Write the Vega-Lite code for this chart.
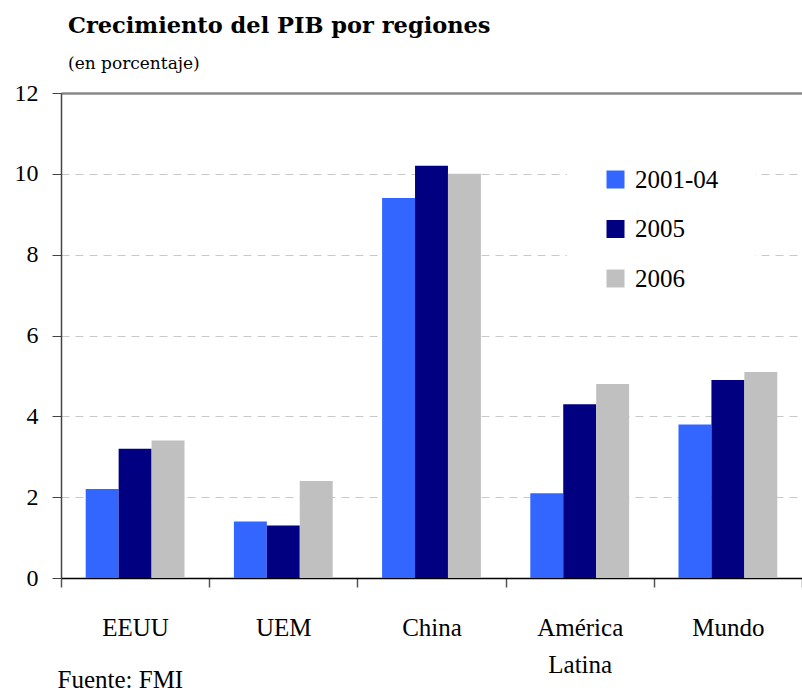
{
  "$schema": "https://vega.github.io/schema/vega-lite/v6.json",
  "autosize": {"type": "none"},
  "padding": {"left": 61, "top": 93, "right": 0, "bottom": 115},
  "width": 741,
  "height": 485,
  "background": "white",
  "config": {"view": {"stroke": null}},
  "title": {
    "text": "Crecimiento del PIB por regiones",
    "subtitle": "(en porcentaje)",
    "anchor": "start",
    "frame": "group",
    "dx": 7,
    "font": "DejaVu Serif",
    "fontSize": 22.5,
    "fontWeight": "bold",
    "color": "black",
    "subtitleFont": "DejaVu Serif",
    "subtitleFontSize": 17,
    "subtitleColor": "black",
    "subtitlePadding": 19,
    "offset": 9
  },
  "data": {
    "values": [
      {"region": "EEUU", "period": "2001-04", "value": 2.2},
      {"region": "EEUU", "period": "2005", "value": 3.2},
      {"region": "EEUU", "period": "2006", "value": 3.4},
      {"region": "UEM", "period": "2001-04", "value": 1.4},
      {"region": "UEM", "period": "2005", "value": 1.3},
      {"region": "UEM", "period": "2006", "value": 2.4},
      {"region": "China", "period": "2001-04", "value": 9.4},
      {"region": "China", "period": "2005", "value": 10.2},
      {"region": "China", "period": "2006", "value": 10.0},
      {"region": "América Latina", "period": "2001-04", "value": 2.1},
      {"region": "América Latina", "period": "2005", "value": 4.3},
      {"region": "América Latina", "period": "2006", "value": 4.8},
      {"region": "Mundo", "period": "2001-04", "value": 3.8},
      {"region": "Mundo", "period": "2005", "value": 4.9},
      {"region": "Mundo", "period": "2006", "value": 5.1}
    ]
  },
  "mark": {"type": "bar"},
  "encoding": {
    "x": {
      "field": "region",
      "type": "nominal",
      "sort": ["EEUU", "UEM", "China", "América Latina", "Mundo"],
      "scale": {"paddingInner": 0, "paddingOuter": 0},
      "axis": {
        "labelAngle": 0,
        "labelExpr": "split(datum.label, ' ')",
        "labelFont": "Liberation Serif",
        "labelFontSize": 25,
        "labelColor": "black",
        "labelLineHeight": 37,
        "labelPadding": 40,
        "labelBaseline": "middle",
        "tickBand": "extent",
        "tickSize": 9,
        "tickColor": "#555555",
        "tickWidth": 1.5,
        "domainColor": "black",
        "domainWidth": 1.5,
        "grid": false,
        "title": "Fuente: FMI",
        "titleFont": "Liberation Serif",
        "titleFontSize": 25,
        "titleFontWeight": "normal",
        "titleColor": "black",
        "titleAnchor": "start",
        "titleAlign": "left",
        "titleBaseline": "alphabetic",
        "titleX": -4,
        "titleY": 109
      }
    },
    "xOffset": {
      "field": "period",
      "type": "nominal",
      "sort": ["2001-04", "2005", "2006"],
      "scale": {"paddingInner": 0, "paddingOuter": 0.75}
    },
    "y": {
      "field": "value",
      "type": "quantitative",
      "scale": {"domain": [0, 12], "nice": false},
      "axis": {
        "values": [0, 2, 4, 6, 8, 10, 12],
        "title": null,
        "labelFont": "Liberation Serif",
        "labelFontSize": 24,
        "labelColor": "black",
        "labelPadding": 14,
        "tickSize": 9,
        "tickColor": "#444444",
        "domainColor": "#444444",
        "domainWidth": 1.5,
        "grid": true,
        "gridColor": {"condition": {"test": "datum.value === 12", "value": "#888888"}, "value": "#c8c8c8"},
        "gridDash": {"condition": {"test": "datum.value === 12", "value": []}, "value": [8, 6]},
        "gridWidth": {"condition": {"test": "datum.value === 12", "value": 2.5}, "value": 1}
      }
    },
    "color": {
      "field": "period",
      "type": "nominal",
      "sort": ["2001-04", "2005", "2006"],
      "scale": {"domain": ["2001-04", "2005", "2006"], "range": ["#3366ff", "#000080", "#c0c0c0"]},
      "legend": {
        "title": null,
        "orient": "none",
        "legendX": 506,
        "legendY": 38,
        "padding": 36,
        "fillColor": "white",
        "symbolType": "square",
        "symbolSize": 324,
        "symbolStrokeWidth": 0,
        "symbolOpacity": 1,
        "labelFont": "Liberation Serif",
        "labelFontSize": 25,
        "labelColor": "black",
        "labelOffset": 7,
        "rowPadding": 23.5
      }
    }
  }
}
